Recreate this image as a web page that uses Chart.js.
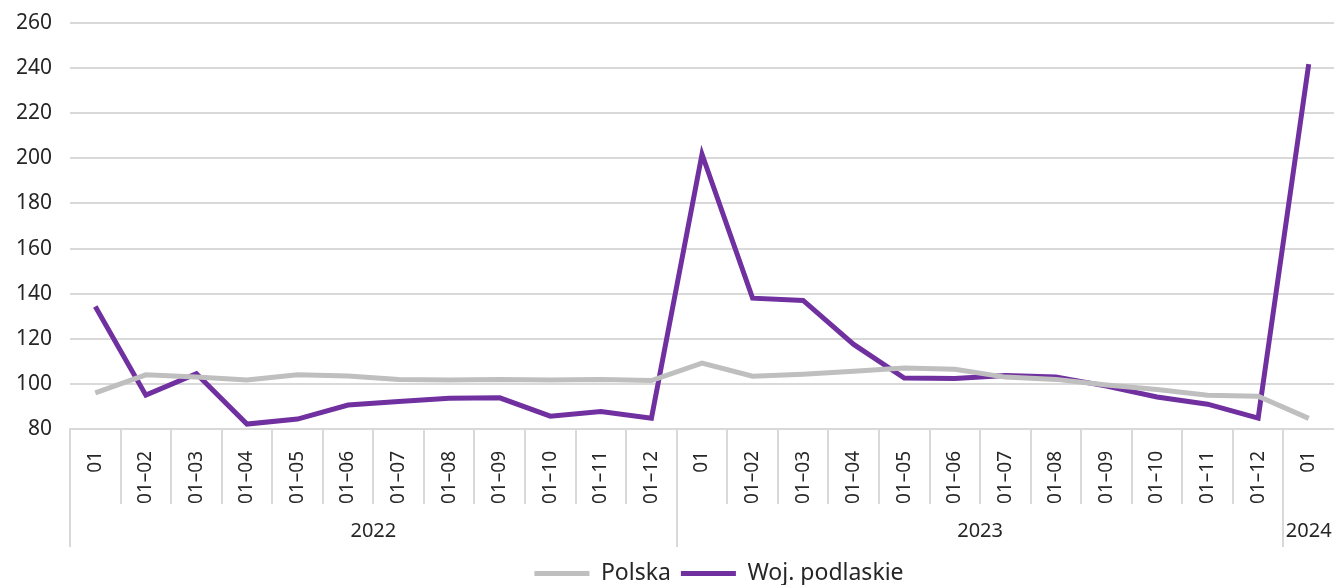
<!DOCTYPE html>
<html lang="pl">
<head>
<meta charset="utf-8">
<script src="https://cdn.jsdelivr.net/npm/chart.js@4.4.1/dist/chart.umd.min.js"></script>
<style>
  html, body { margin: 0; padding: 0; background: #fff; }
  #wrap { width: 1334px; height: 585px; position: relative; }
</style>
</head>
<body>
<div id="wrap"><canvas id="chart"></canvas></div>
<script>
// miesiące narastająco w każdym roku
const miesiace = ['01', '01–02', '01–03', '01–04', '01–05', '01–06', '01–07', '01–08', '01–09', '01–10', '01–11', '01–12'];
const lata = ['2022', '2023', '2024'];
const liczbaWRoku = [12, 12, 1];
const etykiety = [...miesiace, ...miesiace, '01'];

const polska = [96, 104, 103, 101.7, 104, 103.5, 102, 101.7, 102, 101.7, 102, 101.5,
                109.2, 103.4, 104.3, 105.6, 107, 106.5, 103, 102, 99.5, 97.5, 95, 94.5,
                84.7];
const podlaskie = [134.3, 95, 104.5, 82.2, 84.4, 90.6, 92.2, 93.6, 93.8, 85.7, 87.8, 84.8,
                   201.8, 138, 137, 117.5, 102.6, 102.4, 103.7, 103.1, 99, 94.2, 91, 84.8,
                   241.8];

const yMin = 80, yMax = 260, yKrok = 20;

const szary = '#bfbfbf';
const fiolet = '#7030a0';
const siatka = '#d9d9d9';
const czcionka = "'Noto Sans', sans-serif";

// linie podziału i podpisy lat pod osią X
const podzialOsi = {
    id: 'podzialOsi',
    afterLayout(chart) {
        // legenda w oryginale jest lekko przesunięta w prawo
        chart.legend.left += 52;
        chart.legend.right += 52;
    },
    afterDraw(chart) {
        const x = chart.scales.x;
        const ctx = chart.ctx;
        const szer = x.getPixelForValue(1) - x.getPixelForValue(0);
        const top = x.top;

        const granice = new Set([0]);
        let suma = 0;
        liczbaWRoku.forEach(n => { suma += n; granice.add(suma); });

        ctx.save();
        ctx.strokeStyle = siatka;
        ctx.lineWidth = 2;
        for (let i = 0; i < etykiety.length; i++) {
            const xl = Math.round(x.getPixelForValue(i) - szer / 2);
            const dl = granice.has(i) ? 118 : 75;
            ctx.beginPath();
            ctx.moveTo(xl, top);
            ctx.lineTo(xl, top + dl);
            ctx.stroke();
        }

        ctx.fillStyle = '#262626';
        ctx.font = "20px " + czcionka;
        ctx.textAlign = 'center';
        ctx.textBaseline = 'middle';
        let start = 0;
        lata.forEach((rok, k) => {
            const a = x.getPixelForValue(start) - szer / 2;
            const b = x.getPixelForValue(start + liczbaWRoku[k] - 1) + szer / 2;
            ctx.fillText(rok, (a + b) / 2, top + 102);
            start += liczbaWRoku[k];
        });
        ctx.restore();
    }
};

const ctx = document.getElementById('chart').getContext('2d');
new Chart(ctx, {
    type: 'line',
    data: {
        labels: etykiety,
        datasets: [{
            label: 'Polska',
            data: polska,
            borderColor: szary,
            backgroundColor: szary,
            borderWidth: 5,
            pointRadius: 0,
            tension: 0
        }, {
            label: 'Woj. podlaskie',
            data: podlaskie,
            borderColor: fiolet,
            backgroundColor: fiolet,
            borderWidth: 5,
            pointRadius: 0,
            tension: 0
        }]
    },
    options: {
        responsive: true,
        maintainAspectRatio: false,
        animation: false,
        layout: { padding: { top: 23, right: 0, left: 0, bottom: -10 } },
        plugins: {
            legend: {
                display: true,
                position: 'bottom',
                labels: {
                    font: { family: czcionka, size: 23 },
                    color: '#262626',
                    boxWidth: 55,
                    boxHeight: 5,
                    padding: 10,
                    generateLabels(chart) {
                        return chart.data.datasets.map((ds, i) => ({
                            text: ds.label,
                            fillStyle: ds.borderColor,
                            strokeStyle: ds.borderColor,
                            lineWidth: 0,
                            hidden: false,
                            datasetIndex: i,
                            fontColor: '#262626'
                        }));
                    }
                }
            },
            tooltip: { enabled: false }
        },
        scales: {
            x: {
                offset: true,
                grid: { display: false },
                border: { display: true, color: siatka, width: 2 },
                ticks: {
                    autoSkip: false,
                    maxRotation: 90,
                    minRotation: 90,
                    padding: 14,
                    color: '#262626',
                    font: { family: czcionka, size: 19 }
                },
                afterFit(scale) {
                    scale.height = 123;
                    scale.paddingLeft = 0;
                    scale.paddingRight = 0;
                }
            },
            y: {
                min: yMin,
                max: yMax,
                grid: { color: siatka, lineWidth: 2, drawTicks: false },
                border: { display: false },
                ticks: {
                    stepSize: yKrok,
                    padding: 18,
                    color: '#262626',
                    font: { family: czcionka, size: 21 }
                },
                afterFit(scale) {
                    scale.width = 70;
                    scale.paddingTop = 0;
                    scale.paddingBottom = 0;
                }
            }
        }
    },
    plugins: [podzialOsi]
});
</script>
</body>
</html>
